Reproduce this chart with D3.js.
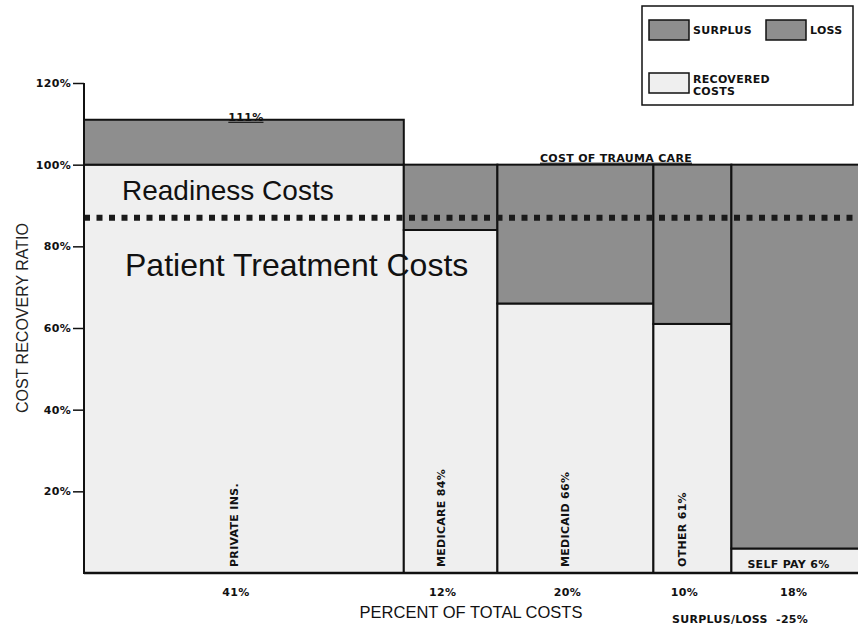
<!DOCTYPE html>
<html>
<head>
<meta charset="utf-8">
<script src="https://cdn.jsdelivr.net/npm/d3@7"></script>
<style>
  body { margin: 0; background: #fff; }
  svg { display: block; font-family: Arial, "Liberation Sans", sans-serif; }
  .small { font-family: "DejaVu Sans", sans-serif; font-size: 11px; font-weight: bold; fill: #111; letter-spacing: 0.3px; }
</style>
</head>
<body>
<div id="plot"></div>
<script>
// payer mix: share of total costs (bar widths) and cost recovery ratio (heights)
const PAYERS = ['PRIVATE INS.', 'MEDICARE 84%', 'MEDICAID 66%', 'OTHER 61%', 'SELF PAY 6%'];
const SHARE = [41, 12, 20, 10, 18];
const RECOVERY = [111, 84, 66, 61, 6];
const SHARE_LABELS = ['41%', '12%', '20%', '10%', '18%'];
const Y_TICKS = [20, 40, 60, 80, 100, 120];
const COST_LINE = 100;
const READINESS_LINE = 87;
const NET = '-25%';

const W = 858, H = 631;
const DARK = '#8e8e8e', LIGHT = '#efefef';

const svg = d3.select('#plot').append('svg').attr('width', W).attr('height', H);

var x = d3.scaleLinear().domain([0, d3.sum(SHARE)]).range([84, 84 + d3.sum(SHARE) * 7.8]);
var y = d3.scaleLinear().domain([0, 120]).range([573, 83]);

var starts = [];
SHARE.reduce(function(acc, s) { starts.push(acc); return acc + s; }, 0);
var bars = PAYERS.map(function(p, i) {
  return { name: p, x0: starts[i], x1: starts[i] + SHARE[i], r: RECOVERY[i], share: SHARE_LABELS[i] };
});

/* bars */
var g = svg.append('g');
// recovered part
g.selectAll('rect.rec').data(bars).enter().append('rect')
  .attr('class', 'rec')
  .attr('x', function(d) { return x(d.x0); })
  .attr('width', function(d) { return x(d.x1) - x(d.x0); })
  .attr('y', function(d) { return y(Math.min(d.r, COST_LINE)); })
  .attr('height', function(d) { return y(0) - y(Math.min(d.r, COST_LINE)); })
  .attr('fill', LIGHT).attr('stroke', '#111').attr('stroke-width', 2);
// surplus / loss part
g.selectAll('rect.gap').data(bars).enter().append('rect')
  .attr('class', 'gap')
  .attr('x', function(d) { return x(d.x0); })
  .attr('width', function(d) { return x(d.x1) - x(d.x0); })
  .attr('y', function(d) { return y(Math.max(d.r, COST_LINE)); })
  .attr('height', function(d) { return Math.abs(y(d.r) - y(COST_LINE)); })
  .attr('fill', DARK).attr('stroke', '#111').attr('stroke-width', 2);

// readiness dotted line
svg.append('line')
  .attr('x1', x(0)).attr('x2', W)
  .attr('y1', y(READINESS_LINE)).attr('y2', y(READINESS_LINE))
  .attr('stroke', '#1a1a1a').attr('stroke-width', 6)
  .attr('stroke-dasharray', '6,6.5');

/* axes */
var yAxis = d3.axisLeft(y).tickValues(Y_TICKS)
  .tickFormat(function(d) { return d + '%'; })
  .tickSize(11).tickPadding(2);
var ya = svg.append('g').attr('transform', 'translate(' + x(0) + ',0)').call(yAxis);
ya.select('.domain').attr('stroke', '#111').attr('stroke-width', 2).attr('d', 'M0,' + y(120) + 'V' + y(0));
ya.selectAll('.tick line').attr('stroke', '#111').attr('stroke-width', 1.5);
ya.selectAll('.tick text').attr('class', 'small').attr('fill', '#111')
  .style('font-family', '"DejaVu Sans", sans-serif').style('font-size', '11px').style('font-weight', 'bold');
svg.append('line').attr('x1', x(0)).attr('x2', W).attr('y1', y(0)).attr('y2', y(0))
  .attr('stroke', '#111').attr('stroke-width', 2.5);

/* labels in bars */
bars.forEach(function(d, i) {
  if (i < bars.length - 1) {
    var cx = (x(d.x0) + x(d.x1)) / 2 - 6;
    svg.append('text').attr('class', 'small')
      .attr('transform', 'translate(' + cx + ',' + (y(0) - 6) + ') rotate(-90)')
      .text(d.name);
  } else {
    svg.append('text').attr('class', 'small')
      .attr('x', x(d.x0) + 16).attr('y', y(0) - 5)
      .text(d.name);
  }
  svg.append('text').attr('class', 'small').attr('text-anchor', 'middle')
    .attr('x', (x(d.x0) + x(d.x1)) / 2 - 8).attr('y', 596)
    .text(d.share);
});

svg.append('text').attr('class', 'small').attr('text-anchor', 'middle')
  .attr('x', (x(bars[0].x0) + x(bars[0].x1)) / 2 + 2).attr('y', y(bars[0].r) + 1)
  .style('text-decoration', 'underline')
  .text(bars[0].r + '%');

svg.append('text').attr('class', 'small').attr('text-anchor', 'middle')
  .attr('x', 616).attr('y', y(COST_LINE) - 3)
  .style('text-decoration', 'underline')
  .text('COST OF TRAUMA CARE');

svg.append('text').attr('x', 122).attr('y', 200)
  .style('font-size', '28px').attr('fill', '#111').text('Readiness Costs');
svg.append('text').attr('x', 125).attr('y', 276)
  .style('font-size', '32px').attr('fill', '#111').text('Patient Treatment Costs');

svg.append('text').attr('text-anchor', 'middle')
  .attr('transform', 'translate(28,318) rotate(-90)')
  .style('font-size', '16px').attr('fill', '#222')
  .text('COST RECOVERY RATIO');
svg.append('text').attr('text-anchor', 'middle').attr('x', 471).attr('y', 618)
  .style('font-size', '16.5px').attr('fill', '#111')
  .text('PERCENT OF TOTAL COSTS');
svg.append('text').attr('class', 'small').attr('x', 672).attr('y', 623)
  .attr('xml:space', 'preserve')
  .text('SURPLUS/LOSS  ' + NET);

/* legend */
var lg = svg.append('g');
lg.append('rect').attr('x', 642).attr('y', 6).attr('width', 211).attr('height', 99)
  .attr('fill', '#fff').attr('stroke', '#111').attr('stroke-width', 1.5);
var items = [
  { label: ['SURPLUS'], fill: DARK, x: 649, y: 20 },
  { label: ['LOSS'], fill: DARK, x: 766, y: 20 },
  { label: ['RECOVERED', 'COSTS'], fill: LIGHT, x: 649, y: 73 }
];
items.forEach(function(it) {
  lg.append('rect').attr('x', it.x).attr('y', it.y).attr('width', 40).attr('height', 20)
    .attr('fill', it.fill).attr('stroke', '#111').attr('stroke-width', 1.5);
  it.label.forEach(function(t, k) {
    lg.append('text').attr('class', 'small')
      .attr('x', it.x + 44).attr('y', it.y + (it.label.length > 1 ? 10 + k * 12 : 14))
      .text(t);
  });
});
</script>
</body>
</html>
